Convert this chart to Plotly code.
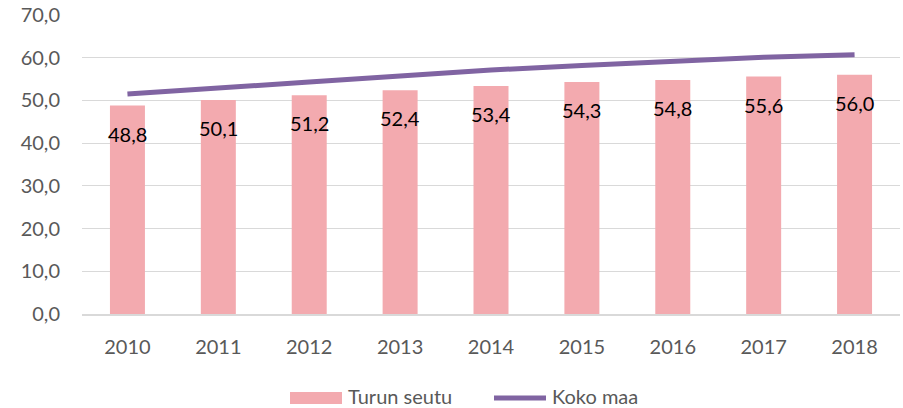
import plotly.graph_objects as go

years = ["2010", "2011", "2012", "2013", "2014", "2015", "2016", "2017", "2018"]
turun_seutu = [48.8, 50.1, 51.2, 52.4, 53.4, 54.3, 54.8, 55.6, 56.0]
koko_maa = [51.5, 53.0, 54.3, 55.7, 57.1, 58.2, 59.2, 60.1, 60.7]
y_ticks = [0, 10, 20, 30, 40, 50, 60, 70]
y_tick_labels = ["0,0", "10,0", "20,0", "30,0", "40,0", "50,0", "60,0", "70,0"]
series_names = ["Turun seutu", "Koko maa"]

FONT = "Lato, 'Open Sans', sans-serif"
BAR_COLOR = "#F3AAAF"
LINE_COLOR = "#8064A2"
TXT = "#595959"

W, H = 903, 408
L, R, T, B = 82, 3, 15, 94
PW, PH = W - L - R, H - T - B


def px(x):
    return (x - L) / PW


def py(y):
    return (H - B - y) / PH


fig = go.Figure()
fig.add_trace(go.Bar(
    x=years, y=turun_seutu, name=series_names[0],
    marker=dict(color=BAR_COLOR, line=dict(width=0)),
    showlegend=False,
))
fig.add_trace(go.Scatter(
    x=years, y=koko_maa, name=series_names[1], mode="lines",
    line=dict(color=LINE_COLOR, width=5),
    showlegend=False,
))

for i, v in enumerate(turun_seutu):
    fig.add_annotation(
        x=i, y=v, xref="x", yref="y",
        text=f"{v:.1f}".replace(".", ","), showarrow=False,
        yanchor="middle", yshift=-28,
        font=dict(family=FONT, size=20, color="#000000"),
    )

# custom legend (swatches + labels)
fig.add_shape(type="rect", xref="paper", yref="paper",
              x0=px(290), x1=px(342), y0=py(404), y1=py(392),
              fillcolor=BAR_COLOR, line=dict(width=0))
fig.add_shape(type="line", xref="paper", yref="paper",
              x0=px(494), x1=px(546), y0=py(398), y1=py(398),
              line=dict(color=LINE_COLOR, width=5))
fig.add_annotation(x=px(347), y=py(396), xref="paper", yref="paper",
                   text=series_names[0], showarrow=False,
                   xanchor="left", yanchor="middle", borderpad=0,
                   font=dict(family=FONT, size=20, color=TXT))
fig.add_annotation(x=px(551), y=py(396), xref="paper", yref="paper",
                   text=series_names[1], showarrow=False,
                   xanchor="left", yanchor="middle", borderpad=0,
                   font=dict(family=FONT, size=20, color=TXT))

fig.update_layout(
    width=W, height=H,
    margin=dict(l=L, r=R, t=T, b=B, autoexpand=False),
    paper_bgcolor="white", plot_bgcolor="white",
    bargap=0.615,
    font=dict(family=FONT, size=20, color=TXT),
    showlegend=False,
    hovermode=False,
    xaxis=dict(
        type="category", range=[-0.5, 8.5], showgrid=False, showline=True,
        linecolor="#D9D9D9", linewidth=1.5, ticks="", automargin=False,
        ticklabelstandoff=14,
        tickfont=dict(family=FONT, size=20, color=TXT),
    ),
    yaxis=dict(
        range=[0, 70], tickvals=y_ticks, ticktext=y_tick_labels,
        showgrid=True, gridcolor="#D9D9D9", gridwidth=1,
        zeroline=False, showline=False, automargin=False,
        ticks="", ticklabelstandoff=21,
        tickfont=dict(family=FONT, size=20, color=TXT),
    ),
)

fig.write_html(
    "out.html",
    config={"displayModeBar": False},
    post_script="document.body.style.margin='0';document.body.style.overflow='hidden';",
)
